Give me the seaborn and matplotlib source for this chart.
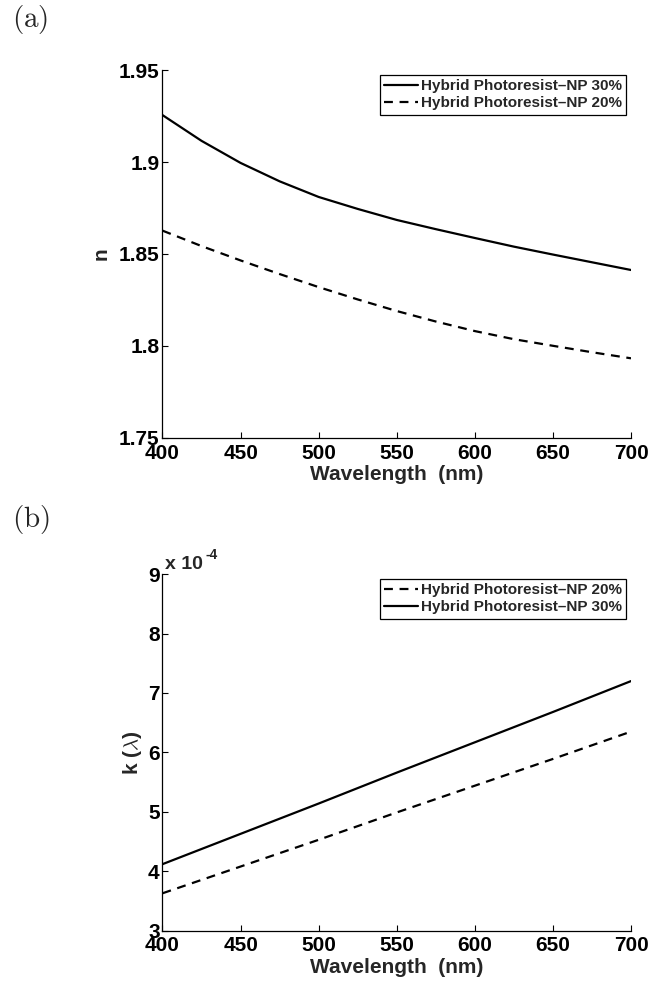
import numpy as np
import pandas as pd
import matplotlib
matplotlib.use('Agg')
import matplotlib.pyplot as plt
import seaborn as sns


###################################################################
# data
###################################################################

wl_a = [400, 425, 450, 475, 500, 525, 550, 575, 600, 625, 650, 675, 700]
n_30 = [1.9255, 1.9115, 1.8995, 1.8895, 1.881, 1.8745, 1.8685, 1.8635, 1.8587,
        1.854, 1.8497, 1.8455, 1.8413]
n_20 = [1.8627, 1.8543, 1.8465, 1.8391, 1.832, 1.8253, 1.819, 1.8133, 1.8081,
        1.8037, 1.8001, 1.7966, 1.7933]

wl_b = [400, 450, 500, 550, 600, 650, 700]
# k values in units of 1e-4
k_30 = [4.12, 4.63, 5.14, 5.66, 6.17, 6.68, 7.20]
k_20 = [3.63, 4.08, 4.53, 4.99, 5.44, 5.89, 6.35]

lab30 = 'Hybrid Photoresist\u2013NP 30%'
lab20 = 'Hybrid Photoresist\u2013NP 20%'

yticks_a = [1.75, 1.8, 1.85, 1.9, 1.95]
yticklabels_a = ['1.75', '1.8', '1.85', '1.9', '1.95']
yticks_b = [3, 4, 5, 6, 7, 8, 9]
xticks = [400, 450, 500, 550, 600, 650, 700]

df_a = pd.concat([
    pd.DataFrame({'wl': wl_a, 'val': n_30, 'sample': lab30}),
    pd.DataFrame({'wl': wl_a, 'val': n_20, 'sample': lab20}),
])
df_b = pd.concat([
    pd.DataFrame({'wl': wl_b, 'val': k_20, 'sample': lab20}),
    pd.DataFrame({'wl': wl_b, 'val': k_30, 'sample': lab30}),
])

###################################################################
# style
###################################################################

sns.set_style('ticks')
plt.rcParams['font.family'] = ['Liberation Sans', 'DejaVu Sans']
plt.rcParams['font.weight'] = 'bold'
plt.rcParams['axes.labelweight'] = 'bold'
plt.rcParams['mathtext.fontset'] = 'cm'

dash_map = {lab30: '', lab20: (4, 3)}

fig = plt.figure(figsize=(6.51, 9.82), dpi=100)
ax_a = fig.add_axes([0.2496, 0.554, 0.7197, 0.3747])
ax_b = fig.add_axes([0.2496, 0.0522, 0.7197, 0.3632])


def style_axis(ax):
    sns.despine(ax=ax)
    for s in ['left', 'bottom']:
        ax.spines[s].set_linewidth(0.9)
        ax.spines[s].set_color('black')
    ax.tick_params(direction='in', length=4, width=0.8,
                   labelsize=15, colors='black')
    ax.tick_params(axis='x', pad=4)
    ax.tick_params(axis='y', pad=2)
    ax.set_xlim(400, 700)
    ax.set_xticks(xticks)
    ax.set_xlabel('Wavelength  (nm)', fontsize=15, labelpad=2)
    leg = ax.get_legend()
    handles = leg.legend_handles
    labels = [t.get_text() for t in leg.get_texts()]
    leg.remove()
    lg = ax.legend(handles, labels, loc='upper right',
                   prop={'weight': 'bold', 'size': 11},
                   frameon=True, fancybox=False, framealpha=1,
                   edgecolor='black', borderpad=0.3, handlelength=2.2,
                   handletextpad=0.2, labelspacing=0.2, borderaxespad=0.3)
    lg.get_frame().set_linewidth(0.9)


###################################################################
# panel (a)
###################################################################

sns.lineplot(data=df_a, x='wl', y='val', style='sample',
             style_order=[lab30, lab20], dashes=dash_map,
             color='black', linewidth=1.6, ax=ax_a)
ax_a.set_ylim(1.75, 1.95)
ax_a.set_yticks(yticks_a, yticklabels_a)
ax_a.set_ylabel('n', fontsize=15, labelpad=6)
style_axis(ax_a)

###################################################################
# panel (b)
###################################################################

sns.lineplot(data=df_b, x='wl', y='val', style='sample',
             style_order=[lab20, lab30], dashes=dash_map,
             color='black', linewidth=1.6, ax=ax_b)
ax_b.set_ylim(3, 9)
ax_b.set_yticks(yticks_b)
ax_b.set_ylabel(r'k ($\lambda$)', fontsize=15, labelpad=3)
style_axis(ax_b)

# exponent text like matlab
ax_b.annotate('x 10', xy=(0, 1), xycoords='axes fraction',
              xytext=(2, 1), textcoords='offset points',
              fontsize=14, fontweight='bold', va='bottom', ha='left')
ax_b.annotate('-4', xy=(0, 1), xycoords='axes fraction',
              xytext=(31, 9), textcoords='offset points',
              fontsize=10, fontweight='bold', va='bottom', ha='left')

fig.text(0.018, 0.997, r'$\mathrm{(a)}$', fontsize=21, va='top', ha='left')
fig.text(0.018, 0.488, r'$\mathrm{(b)}$', fontsize=21, va='top', ha='left')

fig.savefig('out.png', dpi=100)
